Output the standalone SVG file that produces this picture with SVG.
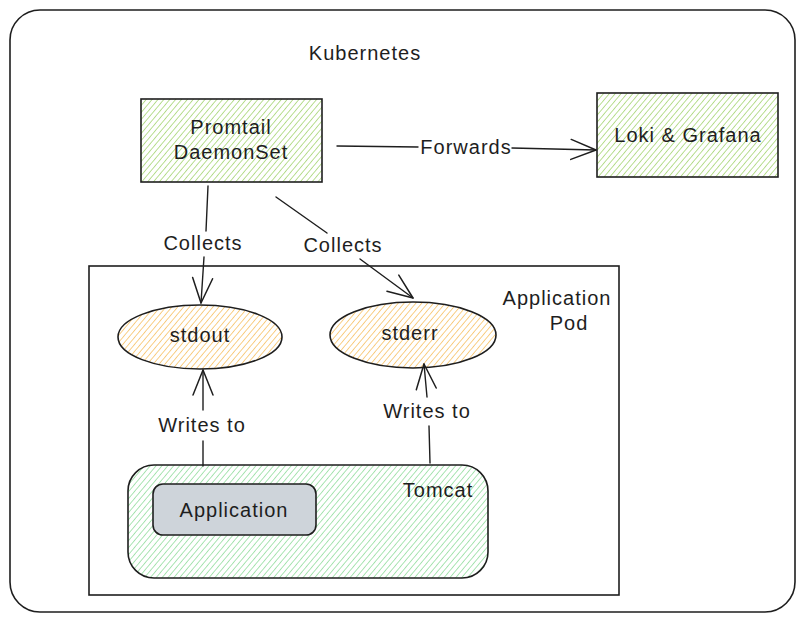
<svg xmlns="http://www.w3.org/2000/svg" width="804" height="622" viewBox="0 0 804 622">
<defs>
<pattern id="hGreen" width="4.5" height="4.5" patternUnits="userSpaceOnUse" patternTransform="rotate(40)">
<line x1="0" y1="0" x2="0" y2="4.5" stroke="#a3d46e" stroke-width="1.5"/>
</pattern>
<pattern id="hOrange" width="4.5" height="4.5" patternUnits="userSpaceOnUse" patternTransform="rotate(40)">
<line x1="0" y1="0" x2="0" y2="4.5" stroke="#f7c060" stroke-width="1.5"/>
</pattern>
<pattern id="hTomcat" width="4.5" height="4.5" patternUnits="userSpaceOnUse" patternTransform="rotate(40)">
<line x1="0" y1="0" x2="0" y2="4.5" stroke="#8fdc9b" stroke-width="1.5"/>
</pattern>
<marker id="arr" markerWidth="30" markerHeight="30" refX="26" refY="12" orient="auto" markerUnits="userSpaceOnUse">
<path d="M1,2 L26,12 L1,22" fill="none" stroke="#1e1e1e" stroke-width="1.5" stroke-linecap="round" stroke-linejoin="round"/>
</marker>
</defs>
<style>
text{font-family:"Liberation Sans","DejaVu Sans",sans-serif;font-size:20px;letter-spacing:1px;fill:#1e1e1e;text-anchor:middle;dominant-baseline:central}
.s{stroke:#1e1e1e;stroke-width:1.6;fill:none}
.c{stroke:#1e1e1e;stroke-width:1.4;fill:none;stroke-linecap:round}
</style>
<rect x="0" y="0" width="804" height="622" fill="#ffffff"/>
<g id="kubernetes">
<rect x="10" y="10" width="785" height="602" rx="30" class="s"/>
<text x="365" y="53">Kubernetes</text>
</g>
<g id="pod">
<rect x="89" y="266" width="530" height="329" class="s" stroke-width="1.4"/>
<text x="557" y="298">Application</text>
<text x="569" y="323">Pod</text>
</g>
<g id="promtail">
<rect x="141" y="99" width="181" height="83" fill="url(#hGreen)"/>
<rect x="141" y="99" width="181" height="83" class="s"/>
<text x="231" y="127">Promtail</text>
<text x="231" y="152">DaemonSet</text>
</g>
<g id="loki">
<rect x="597" y="93" width="181" height="84" fill="url(#hGreen)"/>
<rect x="597" y="93" width="181" height="84" class="s"/>
<text x="688" y="135">Loki &amp; Grafana</text>
</g>
<g id="stdout">
<ellipse cx="200" cy="337" rx="82" ry="32" fill="url(#hOrange)"/>
<ellipse cx="200" cy="337" rx="82" ry="32" class="s"/>
<text x="200" y="335">stdout</text>
</g>
<g id="stderr">
<ellipse cx="413" cy="335" rx="83" ry="33" fill="url(#hOrange)"/>
<ellipse cx="413" cy="335" rx="83" ry="33" class="s"/>
<text x="410" y="333">stderr</text>
</g>
<g id="tomcat">
<rect x="128" y="465" width="360" height="113" rx="26" fill="url(#hTomcat)"/>
<rect x="128" y="465" width="360" height="113" rx="26" class="s"/>
<text x="438" y="490">Tomcat</text>
</g>
<g id="application">
<rect x="153" y="484" width="163" height="51" rx="10" class="s" style="fill:#ced4da"/>
<text x="234" y="510">Application</text>
</g>
<g id="connectors">
<path d="M337,146 L418,147" class="c"/>
<path d="M512,148 L596,150" class="c" marker-end="url(#arr)"/>
<text x="466" y="147">Forwards</text>
<path d="M208,186 L206,231" class="c"/>
<path d="M204,257 L201,303" class="c" marker-end="url(#arr)"/>
<text x="203" y="243">Collects</text>
<path d="M276,197 L327,233" class="c"/>
<path d="M360,259 L413,298" class="c" marker-end="url(#arr)"/>
<text x="343" y="245">Collects</text>
<path d="M203,466 L203,441" class="c"/>
<path d="M203,410 L203,370" class="c" marker-end="url(#arr)"/>
<text x="202" y="425">Writes to</text>
<path d="M430,463 L429,426" class="c"/>
<path d="M427,397 L424,364" class="c" marker-end="url(#arr)"/>
<text x="427" y="411">Writes to</text>
</g>
</svg>
